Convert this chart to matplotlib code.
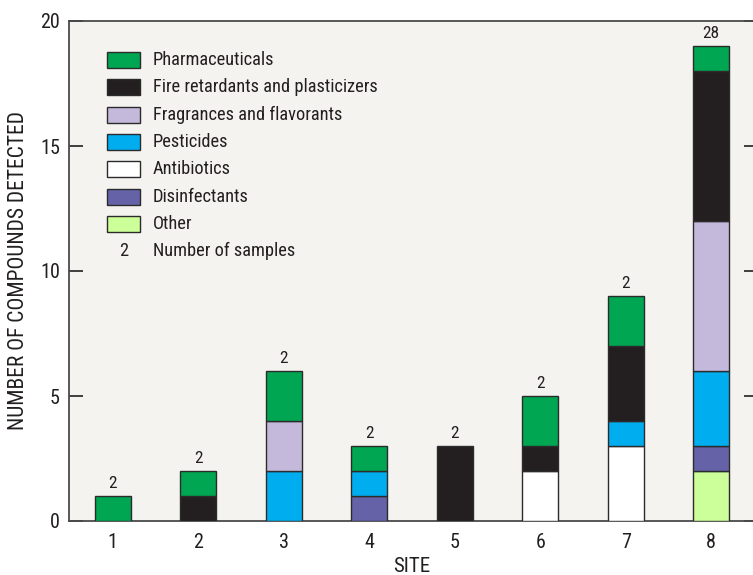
import matplotlib
matplotlib.use("Agg")
import matplotlib.pyplot as plt
from matplotlib.patches import Rectangle
from matplotlib.lines import TICKLEFT
import numpy as np

plt.rcParams['font.family'] = ['Roboto Condensed', 'DejaVu Sans Condensed',
                               'Liberation Sans Narrow', 'Liberation Sans',
                               'DejaVu Sans']
plt.rcParams['font.stretch'] = 'condensed'

sites = [1, 2, 3, 4, 5, 6, 7, 8]
n_samples = [2, 2, 2, 2, 2, 2, 2, 28]

# stacked from bottom to top
other          = [0, 0, 0, 0, 0, 0, 0, 2]
disinfectants  = [0, 0, 0, 1, 0, 0, 0, 1]
antibiotics    = [0, 0, 0, 0, 0, 2, 3, 0]
pesticides     = [0, 0, 2, 1, 0, 0, 1, 3]
fragrances     = [0, 0, 2, 0, 0, 0, 0, 6]
fire_retard    = [0, 1, 0, 0, 3, 1, 3, 6]
pharma         = [1, 1, 2, 1, 0, 2, 2, 1]

stack = [
    ("Other", other, "#ccff99"),
    ("Disinfectants", disinfectants, "#6562a8"),
    ("Antibiotics", antibiotics, "#ffffff"),
    ("Pesticides", pesticides, "#00aeef"),
    ("Fragrances and flavorants", fragrances, "#c4b9db"),
    ("Fire retardants and plasticizers", fire_retard, "#231f20"),
    ("Pharmaceuticals", pharma, "#00a651"),
]
legend_order = ["Pharmaceuticals", "Fire retardants and plasticizers",
                "Fragrances and flavorants", "Pesticides", "Antibiotics",
                "Disinfectants", "Other"]

ink = "#231f20"
frame = "#4a4a4a"
fig = plt.figure(figsize=(7.53, 5.75), dpi=100)
ax = fig.add_axes([69 / 753, 54 / 575, 685 / 753, 500 / 575])
ax.set_facecolor("#f4f3ef")

bottom = np.zeros(len(sites))
for name, vals, color in stack:
    vals = np.array(vals, dtype=float)
    mask = vals > 0
    ax.bar(np.array(sites)[mask], vals[mask], bottom=bottom[mask], width=0.42,
           color=color, edgecolor="#2b2b2b", linewidth=1.0, zorder=3)
    bottom += vals

for x, tot, n in zip(sites, bottom, n_samples):
    ax.text(x, tot + 0.33, str(n), ha="center", va="baseline", fontsize=12.5,
            color=ink)

ax.set_xlim(0.49, 8.5)
ax.set_ylim(0, 20)
ax.set_xticks(sites)
ax.set_yticks([0, 5, 10, 15, 20])
ax.tick_params(axis="x", length=0, labelsize=14.5, pad=8.5, colors=ink)
ax.tick_params(axis="y", direction="in", length=10, width=1.2, labelsize=14.5,
               pad=6.5, colors=ink, right=True)
ax.yaxis.get_ticklines()  # ensure ticks exist
for t in ax.yaxis.get_major_ticks():
    t.tick2line.set_marker(TICKLEFT)
    t.tick2line.set_markersize(7)
for sp in ["left", "bottom", "top"]:
    ax.spines[sp].set_color(frame)
    ax.spines[sp].set_linewidth(1.3)
ax.spines["right"].set_visible(False)

ax.set_xlabel("SITE", fontsize=15, color=ink, labelpad=4)
ax.set_ylabel("NUMBER OF COMPOUNDS DETECTED", fontsize=15.5, color=ink,
              labelpad=8)

# key
colors = {name: c for name, _, c in stack}
row_h = 27.3
for i, name in enumerate(legend_order):
    yc = 60 + i * row_h
    ax.add_patch(Rectangle(((107 - 69) / 685, (521 - yc - 8) / 500),
                           33 / 685, 16 / 500, transform=ax.transAxes,
                           facecolor=colors[name], edgecolor="#2b2b2b",
                           linewidth=1.0, zorder=4, clip_on=False))
    ax.text((153 - 69) / 685, (521 - yc) / 500, name, transform=ax.transAxes,
            ha="left", va="center", fontsize=13.2, color=ink)
yc = 60 + 7 * row_h
ax.text((124 - 69) / 685, (521 - yc) / 500, "2", transform=ax.transAxes,
        ha="center", va="center", fontsize=13.2, color=ink)
ax.text((153 - 69) / 685, (521 - yc) / 500, "Number of samples",
        transform=ax.transAxes, ha="left", va="center", fontsize=13.2,
        color=ink)

fig.savefig("out.png", dpi=100, facecolor="white")
